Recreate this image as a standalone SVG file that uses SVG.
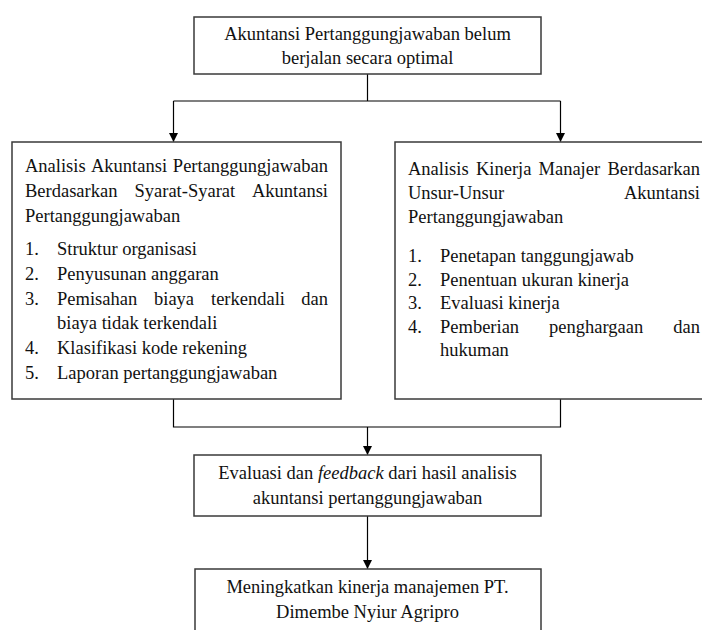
<svg xmlns="http://www.w3.org/2000/svg" width="702" height="630" viewBox="0 0 702 630">
<style>
  .box { fill: #ffffff; stroke: #3a3a3a; stroke-width: 1.5; }
  .t { font-family: "Liberation Serif", "Times New Roman", serif; font-size: 18.5px; fill: #111111; }
  .c { text-anchor: middle; }
  .e { text-anchor: end; }
  .con { fill: none; stroke: #000000; stroke-width: 1.2; }
</style>
<defs>
  <marker id="arr" markerWidth="9" markerHeight="10" refX="8.5" refY="4.5" orient="auto" markerUnits="userSpaceOnUse">
    <path d="M0,0 L9,4.5 L0,9 Z" fill="#000000"/>
  </marker>
</defs>
<rect width="702" height="630" fill="#ffffff"/>

<g id="connectors">
  <path class="con" d="M367.5,74 L367.5,101"/>
  <path class="con" d="M173.5,101 L560.5,101"/>
  <path class="con" d="M173.5,101 L173.5,141.5" marker-end="url(#arr)"/>
  <path class="con" d="M560.5,101 L560.5,141.5" marker-end="url(#arr)"/>
  <path class="con" d="M173.5,399 L173.5,427 L560.5,427 L560.5,399"/>
  <path class="con" d="M367.5,427 L367.5,454.5" marker-end="url(#arr)"/>
  <path class="con" d="M367.5,516 L367.5,568.5" marker-end="url(#arr)"/>
</g>

<g id="node-top">
  <rect class="box" x="194" y="17" width="347" height="57"/>
  <text class="t c" x="367.5" y="39.5">Akuntansi Pertanggungjawaban belum</text>
  <text class="t c" x="367.5" y="64">berjalan secara optimal</text>
</g>

<g id="node-left">
  <rect class="box" x="12" y="142" width="329" height="257"/>
  <text class="t" x="25" y="172">Analisis</text>
  <text class="t" x="91" y="172">Akuntansi</text>
  <text class="t e" x="328" y="172">Pertanggungjawaban</text>
  <text class="t" x="25" y="197">Berdasarkan</text>
  <text class="t" x="134.5" y="197">Syarat-Syarat</text>
  <text class="t e" x="328" y="197">Akuntansi</text>
  <text class="t" x="25" y="222">Pertanggungjawaban</text>
  <text class="t" x="25" y="255">1.</text>
  <text class="t" x="57" y="255">Struktur organisasi</text>
  <text class="t" x="25" y="279.8">2.</text>
  <text class="t" x="57" y="279.8">Penyusunan anggaran</text>
  <text class="t" x="25" y="304.6">3.</text>
  <text class="t" x="57" y="304.6">Pemisahan</text>
  <text class="t" x="154" y="304.6">biaya</text>
  <text class="t" x="211" y="304.6">terkendali</text>
  <text class="t e" x="328" y="304.6">dan</text>
  <text class="t" x="57" y="329.4">biaya tidak terkendali</text>
  <text class="t" x="25" y="354.2">4.</text>
  <text class="t" x="57" y="354.2">Klasifikasi kode rekening</text>
  <text class="t" x="25" y="379">5.</text>
  <text class="t" x="57" y="379">Laporan pertanggungjawaban</text>
</g>

<g id="node-right">
  <rect class="box" x="395" y="142" width="330" height="257"/>
  <text class="t" x="408" y="174.5">Analisis</text>
  <text class="t" x="476" y="174.5">Kinerja</text>
  <text class="t" x="538.5" y="174.5">Manajer</text>
  <text class="t e" x="700" y="174.5">Berdasarkan</text>
  <text class="t" x="408" y="198.5">Unsur-Unsur</text>
  <text class="t e" x="700" y="198.5">Akuntansi</text>
  <text class="t" x="408" y="222.5">Pertanggungjawaban</text>
  <text class="t" x="408" y="262">1.</text>
  <text class="t" x="440" y="262">Penetapan tanggungjawab</text>
  <text class="t" x="408" y="285.5">2.</text>
  <text class="t" x="440" y="285.5">Penentuan ukuran kinerja</text>
  <text class="t" x="408" y="309">3.</text>
  <text class="t" x="440" y="309">Evaluasi kinerja</text>
  <text class="t" x="408" y="332.5">4.</text>
  <text class="t" x="440" y="332.5">Pemberian</text>
  <text class="t" x="549" y="332.5">penghargaan</text>
  <text class="t e" x="700" y="332.5">dan</text>
  <text class="t" x="440" y="356">hukuman</text>
</g>

<g id="node-evaluasi">
  <rect class="box" x="194" y="455" width="347" height="61"/>
  <text class="t c" x="367.5" y="479">Evaluasi dan <tspan font-style="italic">feedback</tspan> dari hasil analisis</text>
  <text class="t c" x="367.5" y="503.5">akuntansi pertanggungjawaban</text>
</g>

<g id="node-kinerja">
  <rect class="box" x="195" y="569" width="346" height="80"/>
  <text class="t c" x="367.5" y="593">Meningkatkan kinerja manajemen PT.</text>
  <text class="t c" x="367.5" y="617.5">Dimembe Nyiur Agripro</text>
</g>
</svg>
